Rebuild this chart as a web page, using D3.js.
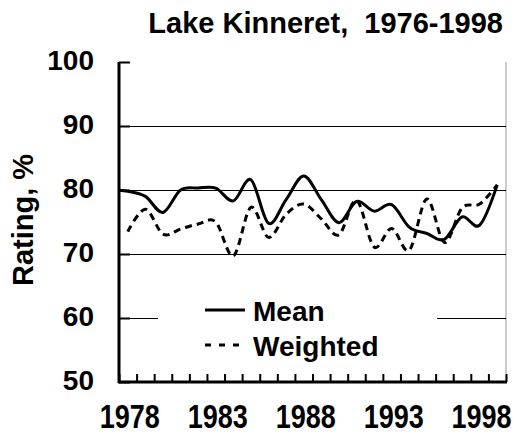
<!DOCTYPE html>
<html>
<head>
<meta charset="utf-8">
<script src="https://cdn.jsdelivr.net/npm/d3@7"></script>
<style>
  body { margin: 0; background: #fff; }
  text { font-family: "Liberation Sans", Arial, sans-serif; font-weight: bold; fill: #000; white-space: pre; }
</style>
</head>
<body>
<script>
// data
var years = [1977, 1978, 1979, 1980, 1981, 1982, 1983, 1984, 1985, 1986, 1987, 1988,
             1989, 1990, 1991, 1992, 1993, 1994, 1995, 1996, 1997, 1998, 1999];
var meanVals = [80.0, 79.8, 79.0, 76.5, 80.0, 80.3, 80.3, 78.3, 81.6, 74.8, 78.5, 82.2,
                78.5, 74.9, 78.2, 76.7, 77.7, 74.2, 73.2, 72.3, 75.8, 74.5, 80.8];
var weightedVals = [null, 73.5, 77.0, 73.1, 73.9, 74.7, 75.0, 69.7, 77.3, 72.6, 76.2, 77.8,
                    75.5, 73.0, 78.4, 71.1, 74.0, 70.6, 78.6, 71.8, 77.2, 77.8, 80.8];
var yTicks = [50, 60, 70, 80, 90, 100];
var xLabels = [1978, 1983, 1988, 1993, 1998];
var seriesNames = ["Mean", "Weighted"];

var width = 514, height = 445;
var plotL = 119, plotR = 506, plotT = 62, plotB = 382;

var svg = d3.select("body").append("svg")
    .attr("width", width)
    .attr("height", height);

var x = d3.scaleLinear().domain([1977.5, 1999.5]).range([plotL, plotR]);
var y = d3.scaleLinear().domain([50, 100]).range([plotB, plotT]);

svg.append("defs").append("clipPath").attr("id", "plot")
  .append("rect")
    .attr("x", plotL).attr("y", plotT)
    .attr("width", plotR - plotL).attr("height", plotB - plotT);

// right border of plot area
svg.append("line")
    .attr("x1", plotR).attr("x2", plotR)
    .attr("y1", plotT).attr("y2", plotB)
    .attr("stroke", "#999").attr("stroke-width", 1);

// gridlines
svg.append("g").selectAll("line")
  .data(yTicks.filter(function(d){ return d > 50 && d < 100; }))
  .enter().append("line")
    .attr("x1", plotL).attr("x2", plotR)
    .attr("y1", function(d){ return Math.round(y(d)) + 0.5; })
    .attr("y2", function(d){ return Math.round(y(d)) + 0.5; })
    .attr("stroke", "#000").attr("stroke-width", 1);

// y axis, ticks inside
var yAxis = d3.axisRight(y).tickValues(yTicks).tickSize(11).tickFormat("");
var gy = svg.append("g").attr("transform", "translate(" + plotL + ",0)").call(yAxis);
gy.select(".domain").remove();
gy.selectAll(".tick line").attr("stroke-width", 2);

svg.append("g").selectAll("text")
  .data(yTicks)
  .enter().append("text")
    .attr("x", 94)
    .attr("y", function(d){ return y(d) + 8; })
    .attr("text-anchor", "end")
    .style("font-size", "28px")
    .text(function(d){ return d; });

// x axis, ticks inside between categories
var tickPos = d3.range(1977.5, 1999.6, 1);
var xAxis = d3.axisTop(x).tickValues(tickPos).tickSize(8).tickFormat("");
var gx = svg.append("g").attr("transform", "translate(0," + plotB + ")").call(xAxis);
gx.select(".domain").remove();
gx.selectAll(".tick line").attr("stroke-width", 2);

svg.append("g").selectAll("text")
  .data(xLabels)
  .enter().append("text")
    .attr("transform", function(d){ return "translate(" + (x(d) + 2) + ",428) scale(1,1.25)"; })
    .attr("text-anchor", "middle")
    .style("font-size", "27px")
    .text(function(d){ return d; });

// axis lines
svg.append("line")
    .attr("x1", plotL).attr("x2", plotL).attr("y1", plotT).attr("y2", plotB + 1)
    .attr("stroke", "#000").attr("stroke-width", 3);
svg.append("line")
    .attr("x1", plotL - 1).attr("x2", plotR + 1).attr("y1", plotB).attr("y2", plotB)
    .attr("stroke", "#000").attr("stroke-width", 3);

// legend box sits over the 60 gridline
var legend = svg.append("g");
legend.append("rect")
    .attr("x", 158).attr("y", 292)
    .attr("width", 437 - 158).attr("height", 72)
    .attr("fill", "#fff");

// lines
var line = d3.line()
    .defined(function(d){ return d[1] != null; })
    .x(function(d){ return x(d[0]); })
    .y(function(d){ return y(d[1]); })
    .curve(d3.curveCardinal);

var lines = svg.append("g").attr("clip-path", "url(#plot)");
lines.append("path")
    .datum(years.map(function(yr, i){ return [yr, meanVals[i]]; }))
    .attr("d", line)
    .attr("fill", "none").attr("stroke", "#000").attr("stroke-width", 3);
lines.append("path")
    .datum(years.map(function(yr, i){ return [yr, weightedVals[i]]; }))
    .attr("d", line)
    .attr("fill", "none").attr("stroke", "#000").attr("stroke-width", 3)
    .attr("stroke-dasharray", "7,5");

var legendY = [310, 345];
seriesNames.forEach(function(name, i){
    legend.append("line")
        .attr("x1", 205).attr("x2", 245)
        .attr("y1", legendY[i]).attr("y2", legendY[i])
        .attr("stroke", "#000").attr("stroke-width", 3)
        .attr("stroke-dasharray", i == 1 ? "6,8" : null);
    legend.append("text")
        .attr("x", 253).attr("y", legendY[i] + 11)
        .style("font-size", "28px")
        .text(name);
});

// titles
svg.append("text")
    .attr("x", 503).attr("y", 33)
    .attr("text-anchor", "end")
    .style("font-size", "29px")
    .text("Lake Kinneret,  1976-1998");

svg.append("text")
    .attr("transform", "translate(33,220) rotate(-90)")
    .attr("text-anchor", "middle")
    .style("font-size", "29px")
    .text("Rating, %");
</script>
</body>
</html>
